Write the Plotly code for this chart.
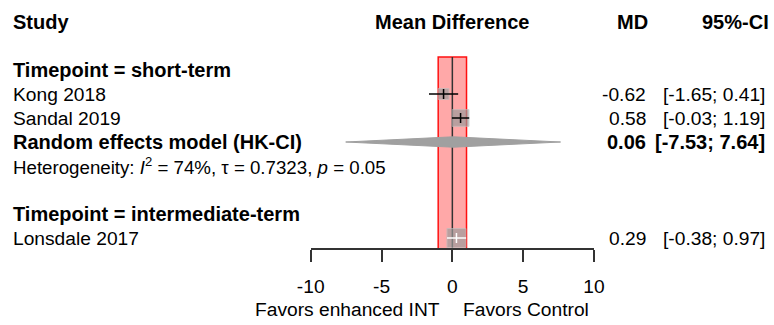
import plotly.graph_objects as go

# ---------------- data ----------------
studies = ["Kong 2018", "Sandal 2019", "Lonsdale 2017"]
study_rows = [3, 4, 9]
md = [-0.62, 0.58, 0.29]
ci_lower = [-1.65, -0.03, -0.38]
ci_upper = [0.41, 1.19, 0.97]
weights = [33, 78, 100]

re_label = "Random effects model (HK-CI)"
re_row = 5
re_md = 0.06
re_lower = -7.53
re_upper = 7.64

het_row = 6
het_text = "Heterogeneity: <i>I</i><sup>2</sup> = 74%, \u03c4 = 0.7323, <i>p</i> = 0.05"

subgroups = ["Timepoint = short-term", "Timepoint = intermediate-term"]
subgroup_rows = [2, 8]

band_lo, band_hi = -1, 1
tick_vals = [-10, -5, 0, 5, 10]
label_left = "Favors enhanced INT"
label_right = "Favors Control"

headers = ["Study", "Mean Difference", "MD", "95%-CI"]

# ---------------- styles ----------------
W, H = 774, 325
FONT = "Liberation Sans, Arial, sans-serif"
FS = 19.2
FS_BOLD = 20
FS_HET = 18.7
row0_px, row_px = 22, 24          # pixel centre of row 0 and row pitch
x_left_px, x_right_px = 310.7, 594.0
axis_px = 249.3
line_cols = ["black", "black", "white"]


def fmt(v):
    return f"{v:.2f}"


fig = go.Figure()

# squares
sizes = [19 * (w / 100) ** 0.5 for w in weights]
fig.add_trace(go.Scatter(
    x=md, y=study_rows, mode="markers",
    marker=dict(symbol="square", size=sizes, color="#9c9c9c",
                line=dict(color="#bcbcbc", width=1)),
    hoverinfo="skip", showlegend=False, cliponaxis=False))

# CI lines + estimate ticks
for i in range(len(studies)):
    fig.add_trace(go.Scatter(
        x=[ci_lower[i], ci_upper[i]], y=[study_rows[i], study_rows[i]],
        mode="lines", line=dict(color=line_cols[i], width=1.5),
        hoverinfo="skip", showlegend=False))
    fig.add_trace(go.Scatter(
        x=[md[i]], y=[study_rows[i]], mode="markers",
        marker=dict(symbol="line-ns", size=7,
                    line=dict(color=line_cols[i], width=1.5)),
        hoverinfo="skip", showlegend=False))

# diamond
h = 5.2 / row_px
fig.add_trace(go.Scatter(
    x=[re_lower, re_md, re_upper, re_md, re_lower],
    y=[re_row, re_row - h, re_row, re_row + h, re_row],
    mode="lines", fill="toself", fillcolor="#a0a0a0",
    line=dict(color="#a0a0a0", width=1),
    hoverinfo="skip", showlegend=False))

# band and zero line
band_top = 1.46
band_bot = (axis_px - row0_px) / row_px
fig.add_shape(type="rect", xref="x", yref="y", x0=band_lo, x1=band_hi,
              y0=band_top, y1=band_bot, fillcolor="#ffa8a8",
              line=dict(color="#ff1010", width=1.5), layer="below")
fig.add_shape(type="line", xref="x", yref="y", x0=0, x1=0,
              y0=band_top, y1=band_bot, line=dict(color="#333333", width=1.5),
              layer="below")

ann = []


def text(x_px, row, t, anchor, bold=False, size=None):
    if size is None:
        size = FS_BOLD if bold else FS
    ann.append(dict(
        x=x_px / W, xref="paper", y=row, yref="y", text=f"<b>{t}</b>" if bold else t,
        xanchor=anchor, yanchor="middle", showarrow=False,
        font=dict(family=FONT, size=size, color="black")))


study_x = 10.5
md_x = 648
ci_x = 767
# headers
text(study_x, 0, headers[0], "left", True)
text((x_left_px + x_right_px) / 2, 0, headers[1], "center", True)
text(649.5, 0, headers[2], "right", True)
text(771, 0, headers[3], "right", True)

for g, r in zip(subgroups, subgroup_rows):
    text(study_x, r, g, "left", True)

for i, s in enumerate(studies):
    text(study_x, study_rows[i], s, "left")
    text(md_x, study_rows[i], fmt(md[i]), "right")
    text(ci_x, study_rows[i], f"[{fmt(ci_lower[i])}; {fmt(ci_upper[i])}]", "right")

text(study_x, re_row, re_label, "left", True)
text(md_x, re_row, fmt(re_md), "right", True)
text(ci_x, re_row, f"[{fmt(re_lower)}; {fmt(re_upper)}]", "right", True)
text(study_x, het_row, het_text, "left", size=FS_HET)

lab_y = 1 - 309 / H
ann.append(dict(x=442 / W, xref="paper", y=lab_y, yref="paper", text=label_left,
                xanchor="right", yanchor="middle", showarrow=False,
                font=dict(family=FONT, size=FS, color="black")))
ann.append(dict(x=461 / W, xref="paper", y=lab_y, yref="paper", text=label_right,
                xanchor="left", yanchor="middle", showarrow=False,
                font=dict(family=FONT, size=FS, color="black")))

y_top = -row0_px / row_px
y_bot = (H - row0_px) / row_px

fig.update_layout(
    width=W, height=H, margin=dict(l=0, r=0, t=0, b=0, pad=0, autoexpand=False),
    paper_bgcolor="white", plot_bgcolor="rgba(0,0,0,0)",
    annotations=ann, showlegend=False,
    xaxis=dict(domain=[x_left_px / W, x_right_px / W], range=[-10, 10],
               anchor="free", position=1 - axis_px / H, automargin=False,
               showline=True, linecolor="#333333", linewidth=1.5,
               ticks="outside", ticklen=12, tickwidth=1.5, tickcolor="#333333",
               tickvals=tick_vals, ticktext=[str(v) for v in tick_vals],
               tickfont=dict(family=FONT, size=FS, color="black"),
               ticklabelstandoff=8,
               showgrid=False, zeroline=False, fixedrange=True),
    yaxis=dict(domain=[0, 1], range=[y_bot, y_top], visible=False, automargin=False,
               showgrid=False, zeroline=False, fixedrange=True),
)

fig.write_html("out.html")
